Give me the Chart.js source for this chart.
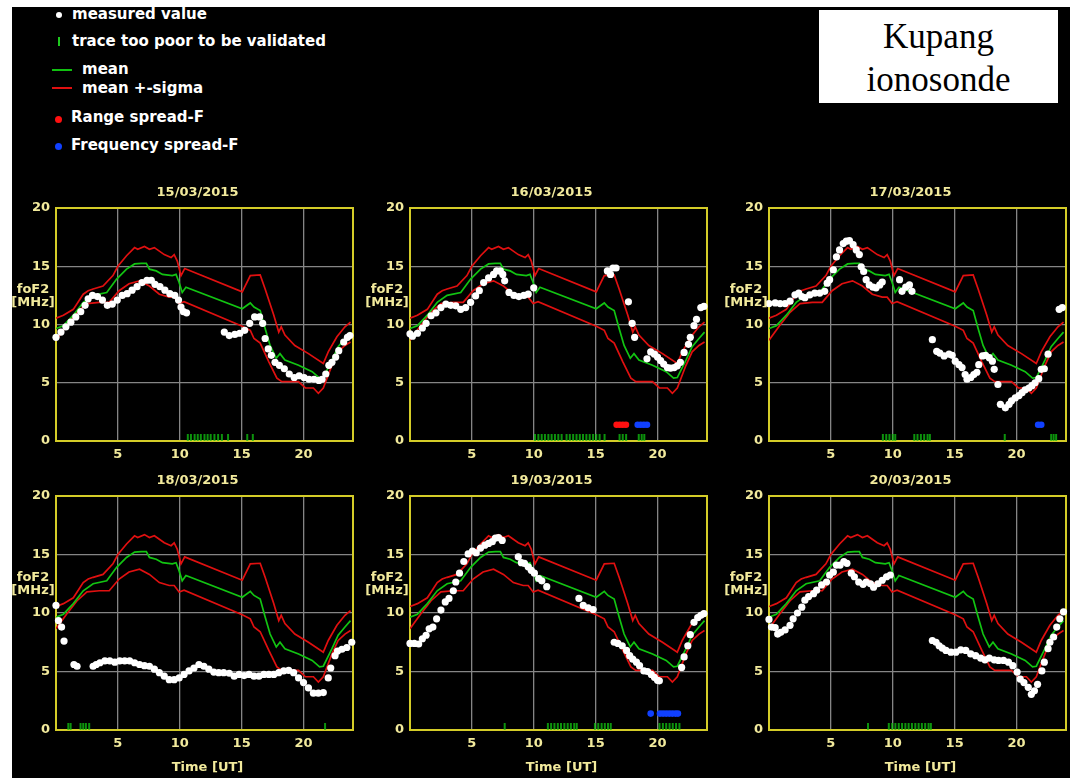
<!DOCTYPE html>
<html><head><meta charset="utf-8">
<script src="https://cdn.jsdelivr.net/npm/chart.js@4.4.0/dist/chart.umd.min.js"></script>
<style>
html,body{margin:0;padding:0;background:#fff;}
body{width:1073px;height:778px;position:relative;overflow:hidden;font-family:"DejaVu Sans",sans-serif;}
#frame{position:absolute;left:12px;top:7px;width:1058px;height:771px;background:#000;}
canvas{position:absolute;}
.lg{position:absolute;color:#fff;font:bold 15px "DejaVu Sans";white-space:nowrap;line-height:18px;}
.mk{position:absolute;}
#box{position:absolute;left:819px;top:10px;width:239px;height:93px;background:#fff;font:35px "Liberation Serif","Times New Roman",serif;color:#000;text-align:center;line-height:43px;padding-top:5px;box-sizing:border-box;}
</style></head>
<body>
<div id="frame"></div>
<div class="mk" style="left:56px;top:12px;width:6px;height:6px;border-radius:50%;background:#fff"></div>
<div class="lg" style="left:72px;top:5px">measured value</div>
<div class="mk" style="left:58px;top:37px;width:2px;height:9px;background:#1ec81e"></div>
<div class="lg" style="left:72px;top:32px">trace too poor to be validated</div>
<div class="mk" style="left:52px;top:69px;width:20px;height:2px;background:#10c010"></div>
<div class="lg" style="left:82px;top:60px">mean</div>
<div class="mk" style="left:52px;top:87px;width:20px;height:2px;background:#e01010"></div>
<div class="lg" style="left:82px;top:79px">mean +-sigma</div>
<div class="mk" style="left:55px;top:116px;width:7px;height:7px;border-radius:50%;background:#ff1010"></div>
<div class="lg" style="left:71px;top:108px">Range spread-F</div>
<div class="mk" style="left:55px;top:143px;width:7px;height:7px;border-radius:50%;background:#1040ff"></div>
<div class="lg" style="left:71px;top:136px">Frequency spread-F</div>
<div id="box">Kupang<br>ionosonde</div>
<script>
// ---------- monthly reference curves (foF2, MHz vs hour UT) ----------
const HOURS_UPPER = [0,0.6,1.4,2.2,2.6,3.0,3.8,4.6,5.0,5.7,6.35,6.6,7.15,7.55,7.95,8.75,9.3,9.55,9.8,10.1,10.4,15.05,15.7,16.5,16.9,17.6,18.0,18.2,18.5,19.3,20.4,21.6,22.0,22.7,23.35,23.8];
const SIGMA_UPPER = [10.55,10.8,11.3,12.6,12.9,13.05,13.3,14.2,15.0,15.9,16.6,16.45,16.7,16.45,16.6,16.0,15.75,16.0,15.45,14.2,14.8,12.8,14.2,14.25,13.05,10.8,9.35,9.8,9.1,8.2,7.5,6.65,7.65,8.95,9.8,10.2];
const HOURS_MEAN = [0,0.6,1.4,2.2,3.0,4.1,4.9,5.7,6.35,6.9,7.3,7.55,8.1,8.6,9.4,9.7,9.95,10.2,10.5,15.05,15.7,16.0,16.5,16.9,17.3,17.8,18.1,18.5,19.6,20.7,21.3,21.6,22.3,22.8,23.35,23.8];
const MEAN = [9.65,9.9,10.8,11.9,12.5,12.75,13.9,14.75,15.2,15.25,15.25,14.75,14.6,14.3,14.2,14.3,13.6,12.75,13.2,11.35,11.85,11.5,11.2,9.65,8.2,7.1,7.5,6.95,6.5,5.95,5.4,5.45,6.95,8.1,8.8,9.35];
const HOURS_LOWER = [0,0.85,1.7,2.5,3.5,4.3,5.1,5.9,6.75,7.55,8.35,9.15,9.55,9.95,10.35,15.05,15.7,16.0,16.5,17.2,17.85,18.25,19.6,20.15,20.8,21.2,21.6,22.3,22.8,23.35,23.8];
const SIGMA_LOWER = [8.65,9.9,11.05,11.8,11.9,11.9,12.9,13.5,13.75,13.3,12.6,12.35,12.35,11.8,11.95,9.85,9.5,8.8,8.4,6.8,5.4,5.1,5.1,4.55,4.55,4.1,4.55,6.5,7.65,8.2,8.5];

// ---------- daily measurements ----------
const DATES = ['15/03/2015','16/03/2015','17/03/2015','18/03/2015','19/03/2015','20/03/2015'];

const H15 = [0,0.4,0.8,1.2,1.6,2.0,2.35,2.6,2.95,3.35,3.75,4.15,4.55,4.95,5.35,5.75,6.15,6.55,6.95,7.35,7.7,8.0,8.4,8.8,9.2,9.6,9.9,10.1,10.3,10.55,13.6,14.0,14.45,14.85,15.25,15.65,16.05,16.45,16.7,16.9,17.15,17.4,17.7,18.05,18.45,18.85,19.25,19.65,20.05,20.45,20.85,21.25,21.5,21.8,22.05,22.3,22.6,22.85,23.25,23.55,23.75];
const F15 = [8.9,9.35,9.8,10.2,10.65,11.1,11.65,12.2,12.5,12.4,12.1,11.65,11.75,12.1,12.5,12.65,12.95,13.25,13.6,13.8,13.8,13.45,13.25,12.95,12.65,12.5,12.1,11.5,11.1,11.0,9.35,9.05,9.15,9.25,9.5,10.1,10.65,10.65,10.1,8.8,7.9,7.35,6.75,6.5,6.2,5.75,5.45,5.6,5.45,5.3,5.3,5.2,5.3,5.75,6.5,6.75,7.2,7.75,8.5,8.9,9.05];
const TP15 = [10.65,10.9,11.2,11.45,11.7,12.0,12.25,12.5,12.8,13.1,13.4,13.9,15.45,15.9];
const RSF15 = [];
const FSF15 = [];

const H16 = [0,0.2,0.6,1.0,1.3,1.7,2.1,2.5,2.9,3.3,3.7,4.1,4.5,4.9,5.3,5.6,5.95,6.35,6.75,7.0,7.3,7.5,7.65,8.0,8.4,8.8,9.2,9.55,10.0,15.95,16.2,16.4,16.65,17.65,17.95,18.15,19.15,19.45,19.75,20.0,20.25,20.5,20.8,21.05,21.35,21.6,21.85,22.15,22.5,22.65,22.95,23.15,23.5,23.75];
const F16 = [9.2,9.0,9.25,9.7,10.1,10.75,11.0,11.45,11.75,11.65,11.6,11.3,11.45,11.9,12.45,12.9,13.6,14.0,14.3,14.6,14.6,14.3,13.75,12.75,12.5,12.4,12.5,12.6,13.15,14.6,14.3,14.85,14.85,11.95,10.1,8.9,7.05,7.65,7.45,7.2,6.9,6.6,6.3,6.25,6.3,6.45,6.75,7.6,8.3,8.9,9.9,10.45,11.45,11.55];
const TP16 = [10.1,10.37,10.64,10.9,11.18,11.44,11.71,11.98,12.25,12.65,12.91,13.18,13.45,13.72,13.98,14.25,14.52,14.79,15.05,15.32,15.72,16.93,17.19,17.46,18.48,18.72,18.93];
const RSF16 = [16.7,16.95,17.2,17.45];
const FSF16 = [18.4,18.65,18.9,19.15];

const H17 = [0,0.5,0.9,1.3,1.7,2.1,2.4,2.65,2.9,3.3,3.7,4.1,4.5,4.7,4.9,5.2,5.45,5.7,6.0,6.25,6.5,6.8,7.05,7.3,7.45,7.65,7.85,8.1,8.4,8.65,8.95,9.15,10.55,10.75,11.05,11.35,11.55,13.2,13.55,13.8,14.15,14.55,14.8,15.05,15.35,15.6,15.85,16.0,16.3,16.55,16.8,16.95,17.25,17.5,17.8,18.05,18.2,18.5,18.7,19.1,19.4,19.6,19.9,20.2,20.45,20.7,21.0,21.25,21.5,21.8,22.0,22.25,22.55,23.45,23.7];
const F17 = [11.8,11.85,11.8,11.8,12.0,12.55,12.7,12.4,12.3,12.55,12.7,12.7,12.85,13.55,13.85,14.7,15.8,16.4,16.95,17.15,17.2,16.85,16.4,16.0,14.95,14.55,13.85,13.4,13.2,13.15,13.4,13.65,13.85,12.85,13.2,13.4,12.85,8.7,7.7,7.55,7.3,7.45,7.35,6.85,6.55,6.3,5.7,5.3,5.45,5.7,5.9,6.55,7.3,7.35,7.15,6.85,6.15,4.85,3.15,2.85,3.15,3.45,3.7,3.9,4.15,4.4,4.55,4.75,5.0,5.35,6.15,6.2,7.45,11.3,11.45];
const TP17 = [9.2,9.47,9.73,10.0,10.2,11.74,12.0,12.27,12.54,12.81,13.0,19.05,22.8,23.0,23.2];
const RSF17 = [];
const FSF17 = [21.75,22.0];

const H18 = [0,0.2,0.45,0.65,1.45,1.7,3.0,3.25,3.55,3.95,4.35,4.75,5.15,5.55,5.95,6.35,6.75,7.15,7.55,7.95,8.35,8.75,9.15,9.55,9.95,10.35,10.75,11.15,11.55,11.95,12.35,12.75,13.15,13.55,14.0,14.4,14.8,15.2,15.6,16.0,16.4,16.8,17.2,17.6,18.0,18.4,18.8,19.2,19.6,20.0,20.4,20.8,21.2,21.6,22.0,22.2,22.55,22.75,23.1,23.5,23.9];
const F18 = [10.65,9.35,8.8,7.6,5.6,5.45,5.45,5.6,5.75,5.9,5.9,5.8,5.9,5.9,5.9,5.75,5.6,5.5,5.45,5.2,4.9,4.6,4.3,4.3,4.45,4.75,5.05,5.3,5.6,5.45,5.2,4.95,4.9,4.9,4.85,4.6,4.75,4.65,4.75,4.6,4.6,4.75,4.75,4.75,4.9,5.05,5.1,4.9,4.45,4.05,3.6,3.15,3.15,3.2,4.45,5.3,6.35,6.75,6.9,7.05,7.5];
const TP18 = [0.99,1.18,1.98,2.2,2.41,2.68,21.74];
const RSF18 = [];
const FSF18 = [];

const H19 = [0,0.35,0.7,1.0,1.3,1.55,1.85,2.15,2.5,2.85,3.15,3.5,3.7,4.0,4.35,4.7,5.05,5.35,5.7,6.05,6.35,6.65,6.9,7.15,7.45,8.75,9.0,9.25,9.55,9.8,10.05,10.4,10.65,11.05,13.65,14.0,14.4,14.8,16.5,16.8,17.15,17.5,17.75,18.0,18.3,18.55,18.9,19.2,19.5,19.75,20.0,20.15,21.95,22.15,22.45,22.65,22.95,23.25,23.5,23.75];
const F19 = [7.4,7.4,7.35,7.8,8.1,8.65,8.8,9.5,10.25,10.95,11.25,11.9,12.65,13.4,14.4,15.05,15.3,15.15,15.55,15.8,15.95,16.1,16.4,16.45,16.2,14.8,14.3,14.25,13.95,13.65,13.4,12.95,12.75,12.25,11.25,10.65,10.45,10.3,7.5,7.4,7.2,6.8,6.35,6.05,5.8,5.5,5.05,5.0,4.75,4.5,4.25,4.2,5.35,6.25,7.2,8.15,9.2,9.6,9.8,9.95];
const TP19 = [7.65,11.14,11.4,11.67,11.94,12.2,12.47,12.74,13.0,13.27,13.47,14.94,15.21,15.48,15.74,16.0,16.22,20.16,20.43,20.7,20.97,21.23,21.5,21.77];
const RSF19 = [];
const FSF19 = [19.45,20.2,20.45,20.7,20.95,21.2,21.45,21.65];

const H20 = [0,0.2,0.5,0.7,0.95,1.3,1.7,1.95,2.3,2.65,2.9,3.2,3.6,3.85,4.25,4.65,4.9,5.2,5.45,5.75,6.05,6.3,6.65,6.9,7.25,7.6,7.85,8.2,8.45,8.8,9.15,9.5,9.8,13.2,13.5,13.75,14.0,14.3,14.7,15.1,15.5,15.9,16.3,16.7,17.1,17.45,17.8,18.2,18.55,18.95,19.35,19.7,20.05,20.3,20.6,20.95,21.2,21.45,21.7,22.05,22.25,22.55,22.7,23.0,23.25,23.5,23.8];
const F20 = [9.45,8.8,8.75,8.2,8.35,8.55,8.95,9.5,10.0,10.5,11.1,11.4,11.65,11.95,12.4,12.65,13.25,13.5,14.1,14.1,14.4,14.25,13.4,13.1,12.65,12.45,12.65,12.5,12.2,12.5,12.8,13.1,13.25,7.65,7.5,7.2,7.0,6.8,6.65,6.65,6.85,6.8,6.5,6.35,6.15,6.0,6.15,6.0,5.95,5.95,5.8,5.5,4.95,4.35,4.05,3.65,3.05,3.35,3.9,5.05,5.8,6.95,7.5,7.95,8.8,9.5,10.1];
const TP20 = [8.0,9.68,9.95,10.21,10.48,10.75,11.02,11.28,11.55,11.82,12.09,12.35,12.62,12.89,13.08];
const RSF20 = [];
const FSF20 = [];

const SPREAD_LEVEL = 1.4;   // spread-F markers level (MHz)
const X_TICKS = [5,10,15,20];
const Y_TICKS = [0,5,10,15,20];
const Y_TITLE = ['foF2','[MHz]'];
const X_TITLE = 'Time [UT]';

// ---------- styling / layout ----------
const TXT = '#f2ea9c';
const BORDER = '#d4cc28';
const GRID = '#858585';
const RED = '#e01010';
const GREEN = '#12c412';
const FONT = 'DejaVu Sans';

const DAYS = [
  {H:H15,F:F15,TP:TP15,R:RSF15,B:FSF15},
  {H:H16,F:F16,TP:TP16,R:RSF16,B:FSF16},
  {H:H17,F:F17,TP:TP17,R:RSF17,B:FSF17},
  {H:H18,F:F18,TP:TP18,R:RSF18,B:FSF18},
  {H:H19,F:F19,TP:TP19,R:RSF19,B:FSF19},
  {H:H20,F:F20,TP:TP20,R:RSF20,B:FSF20}
];
const LAYOUT = [
  {l:56,t:208,w:299,h:233,bottom:false},
  {l:410,t:208,w:299,h:233,bottom:false},
  {l:769,t:208,w:299,h:233,bottom:false},
  {l:56,t:496,w:299,h:234,bottom:true},
  {l:410,t:496,w:299,h:234,bottom:true},
  {l:769,t:496,w:299,h:234,bottom:true}
];

const pts = (xs, ys) => xs.map((x,i)=>({x, y:ys[i]}));
const lvl = (xs, v) => xs.map(x=>({x, y:v}));

// vertical tick glyph: drawn upward from its data point
const tickImg = document.createElement('canvas');
tickImg.width = 4; tickImg.height = 14;
{ const c = tickImg.getContext('2d'); c.fillStyle = GREEN; c.fillRect(1.25,0,1.5,7); }

const deco = {
  id:'deco',
  beforeDatasetsDraw(chart){
    const {ctx, chartArea:a} = chart;
    ctx.save();
    ctx.strokeStyle = BORDER; ctx.lineWidth = 2;
    ctx.strokeRect(a.left, a.top, a.right-a.left, a.bottom-a.top);
    ctx.restore();
  },
  afterDraw(chart, args, opts){
    const {ctx, chartArea:a, scales} = chart;
    ctx.save();
    ctx.fillStyle = TXT;
    ctx.font = 'bold 13px "'+FONT+'"';
    ctx.textAlign = 'center'; ctx.textBaseline = 'middle';
    ctx.fillText(opts.title, (a.left+a.right)/2 - 7, a.top - 15);
    const yy = scales.y.getPixelForValue(13);
    ctx.fillText(Y_TITLE[0], a.left - 23, yy);
    ctx.fillText(Y_TITLE[1], a.left - 23, yy + 13);
    if (opts.xTitle) ctx.fillText(X_TITLE, (a.left+a.right)/2 + 3, a.bottom + 38);
    ctx.restore();
  }
};

DAYS.forEach((d, i) => {
  const L = LAYOUT[i];
  const cv = document.createElement('canvas');
  const padL = 45, padT = 30, padR = 6, padB = L.bottom ? 50 : 25;
  cv.width = padL + L.w + padR; cv.height = padT + L.h + padB;
  cv.style.left = (L.l - padL) + 'px'; cv.style.top = (L.t - padT) + 'px';
  cv.style.width = cv.width + 'px'; cv.style.height = cv.height + 'px';
  document.body.appendChild(cv);
  new Chart(cv, {
    type:'scatter',
    data:{datasets:[
      {data:pts(d.H,d.F), pointRadius:3.6, pointBackgroundColor:'#ffffff', pointBorderWidth:0, showLine:false, clip:false},
      {data:lvl(d.R,SPREAD_LEVEL), pointRadius:3.3, pointBackgroundColor:'#ff1010', pointBorderWidth:0, showLine:false, clip:false},
      {data:lvl(d.B,SPREAD_LEVEL), pointRadius:3.3, pointBackgroundColor:'#1040ff', pointBorderWidth:0, showLine:false, clip:false},
      {data:lvl(d.TP,0), pointStyle:tickImg, pointRadius:7, showLine:false, clip:false},
      {data:pts(HOURS_MEAN,MEAN), showLine:true, borderColor:GREEN, borderWidth:1.7, pointRadius:0, fill:false, tension:0},
      {data:pts(HOURS_UPPER,SIGMA_UPPER), showLine:true, borderColor:RED, borderWidth:1.7, pointRadius:0, fill:false, tension:0},
      {data:pts(HOURS_LOWER,SIGMA_LOWER), showLine:true, borderColor:RED, borderWidth:1.7, pointRadius:0, fill:false, tension:0}
    ]},
    options:{
      responsive:false, animation:false, devicePixelRatio:1, events:[],
      layout:{padding:{left:0,top:padT,right:padR,bottom:0}},
      plugins:{legend:{display:false}, tooltip:{enabled:false}, title:{display:false},
        deco:{title:DATES[i], xTitle:L.bottom}},
      scales:{
        x:{type:'linear', min:0, max:24,
          afterBuildTicks:s=>{ s.ticks = X_TICKS.map(v=>({value:v})); },
          afterFit:s=>{ s.height = padB; },
          grid:{color:GRID, lineWidth:1.3, drawTicks:false},
          border:{display:false},
          ticks:{color:TXT, font:{family:FONT,size:13,weight:'bold'}, padding:6, maxRotation:0, autoSkip:false}
        },
        y:{type:'linear', min:0, max:20,
          afterBuildTicks:s=>{ s.ticks = Y_TICKS.map(v=>({value:v})); },
          afterFit:s=>{ s.width = padL; },
          grid:{color:GRID, lineWidth:1.3, drawTicks:false},
          border:{display:false},
          ticks:{color:TXT, font:{family:FONT,size:13,weight:'bold'}, padding:6}
        }
      }
    },
    plugins:[deco]
  });
});
</script>
</body></html>
